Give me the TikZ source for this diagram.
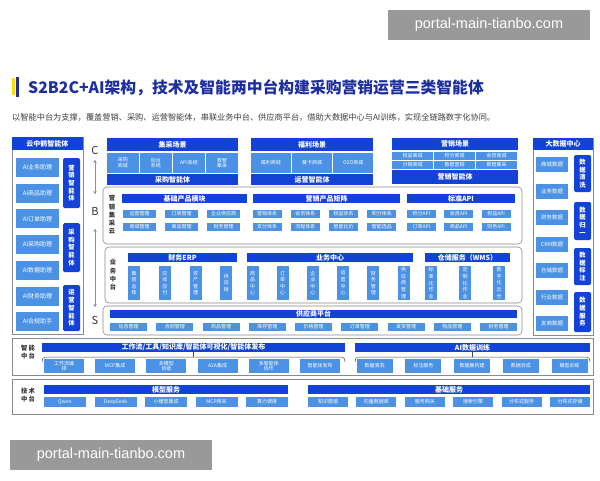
\documentclass[tikz,border=0pt]{standalone}
\usepackage{fontspec}
\setmainfont{Noto Sans CJK SC}
\newfontfamily\wmfont{Liberation Sans}
\usetikzlibrary{arrows.meta}
\definecolor{dkb}{HTML}{1242D6}
\definecolor{ltb}{HTML}{4C92E4}
\definecolor{ttl}{HTML}{1D2F9E}
\definecolor{gln}{HTML}{8A8A8A}
\definecolor{arc}{HTML}{8090B8}
\tikzstyle{hd} = [rectangle, fill=dkb, text=white, inner sep=0pt,
    font=\fontsize{7}{8}\selectfont\bfseries]
\tikzstyle{ce} = [rectangle, fill=ltb, text=white, inner sep=0pt, align=center,
    font=\fontsize{5}{5.8}\selectfont]
\tikzstyle{vc} = [ce, minimum width=12pt, minimum height=34pt, font=\fontsize{5}{6.6}\selectfont]
\tikzstyle{dc} = [rectangle, fill=dkb, text=white, inner sep=0pt, align=center,
    rounded corners=1.5pt, minimum width=17pt, font=\fontsize{6.3}{7.7}\selectfont\bfseries]
\tikzstyle{pn} = [rectangle, draw=gln, line width=0.6pt]
\tikzstyle{rp} = [pn, rounded corners=4pt]
\tikzstyle{lb} = [align=center, text=black!80, font=\fontsize{6.3}{8.3}\selectfont\bfseries]

\begin{document}
\begin{tikzpicture}[x=1pt,y=-1pt,>={Stealth[length=3.5pt,width=3.5pt]}]
  \useasboundingbox (0,0) rectangle (600,480);
  \fill[white] (0,0) rectangle (600,480);

  \fill[yellow!80!orange] (12,78) rectangle (15,95);
  \fill[ttl] (16,77) rectangle (18.5,97);
  \node[anchor=west, inner sep=0pt, text=ttl, font=\fontsize{15.8}{17}\selectfont\bfseries] (tt) at (28,88)
    {S2B2C+AI架构，技术及智能两中台构建采购营销运营三类智能体};
  \node[anchor=west, inner sep=0pt, text=black!75, font=\fontsize{8.2}{9}\selectfont] (st) at (12,117)
    {以智能中台为支撑，覆盖营销、采购、运营智能体，串联业务中台、供应商平台，借助大数据中心与AI训练，实现全链路数字化协同。};

  \node[pn, minimum width=71pt, minimum height=197pt] (yzh) at (47.5,235.5) {};
  \node[hd, minimum width=71pt, minimum height=13pt] (yzhh) at (47.5,143.5) {云中鹤智能体};
  \foreach \t [count=\i from 0] in {AI业务助理,AI商品助理,AI订单助理,AI采购助理,AI数据助理,AI财务助理,AI合规助手}
    \node[ce, minimum width=43pt, minimum height=19pt, font=\fontsize{6}{7}\selectfont] (ai\i) at (37.5,167.5+25.7*\i) {\t};
  \node[dc, minimum height=50pt] (yxa) at (71.5,183) {营\\销\\智\\能\\体};
  \node[dc, minimum height=49pt] (cga) at (71.5,247.5) {采\\购\\智\\能\\体};
  \node[dc, minimum height=46pt] (yya) at (71.5,308) {运\\营\\智\\能\\体};

  \node[text=black!80, font=\fontsize{11}{12}\selectfont] (lc) at (95,150) {C};
  \node[text=black!80, font=\fontsize{11}{12}\selectfont] (lb) at (95,211) {B};
  \node[text=black!80, font=\fontsize{11}{12}\selectfont] (ls) at (95,320) {S};
  \draw[<->, arc, line width=0.7pt, shorten <=2pt, shorten >=9pt] (lc) -- (lb);
  \draw[<->, arc, line width=0.7pt, shorten <=10pt, shorten >=5pt] (lb) -- (ls);

  \node[hd, minimum width=131pt, minimum height=13pt] (jch) at (172.5,144.5) {集采场景};
  \foreach \t [count=\i from 0] in {{采购\\商城},{后台\\系统},API系统,{数智\\集采}}
    \node[ce, minimum width=31.6pt, minimum height=20pt] (jc\i) at (122.8+33.1*\i,163) {\t};
  \node[hd, minimum width=131pt, minimum height=11pt] (jcf) at (172.5,179.5) {采购智能体};

  \node[hd, minimum width=122pt, minimum height=13pt] (flh) at (312,144.5) {福利场景};
  \foreach \t [count=\i from 0] in {福利商城,餐卡商城,O2O商城}
    \node[ce, minimum width=39.7pt, minimum height=20pt] (fl\i) at (270.8+41.2*\i,163) {\t};
  \node[hd, minimum width=122pt, minimum height=11pt] (flf) at (312,179.5) {运营智能体};

  \node[hd, minimum width=126pt, minimum height=12pt] (yxh) at (455,144) {营销场景};
  \foreach \t [count=\i from 0] in {权益商城,积分商城,会员商城}
    \node[ce, minimum width=41pt, minimum height=7.5pt] (yxr\i) at (412.5+42*\i,155.8) {\t};
  \foreach \t [count=\i from 0] in {分销商城,数智营销,数智集采}
    \node[ce, minimum width=41pt, minimum height=7.5pt] (yxs\i) at (412.5+42*\i,164.8) {\t};
  \node[hd, minimum width=126pt, minimum height=14.5pt] (yxf) at (455,176.8) {营销智能体};

  \node[pn, minimum width=60pt, minimum height=197pt] (dsj) at (563,236.5) {};
  \node[hd, minimum width=60pt, minimum height=12pt] (dsjh) at (563,144) {大数据中心};
  \foreach \t [count=\i from 0] in {商城数据,业务数据,财务数据,CRM数据,仓储数据,行业数据,友商数据}
    \node[ce, minimum width=32pt, minimum height=15pt, font=\fontsize{5.5}{6}\selectfont] (sj\i) at (552,164.5+26.5*\i) {\t};
  \node[dc, minimum height=37pt] (sqx) at (582.5,173.5) {数\\据\\清\\洗};
  \node[dc, minimum height=38pt] (sgy) at (582.5,221) {数\\据\\归\\一};
  \node[dc, minimum height=37pt] (sbz) at (582.5,266.5) {数\\据\\标\\注};
  \node[dc, minimum height=40pt] (sfw) at (582.5,312) {数\\据\\服\\务};

  \node[rp, minimum width=419pt, minimum height=57pt] (yxjc) at (312.5,215.5) {};
  \node[lb] (yxjcl) at (112,215) {营\\销\\集\\采\\云};
  \node[hd, minimum width=125pt, minimum height=9pt] (jch2) at (184.5,198.5) {基础产品模块};
  \node[hd, minimum width=147pt, minimum height=9pt] (jzh) at (326.5,198.5) {营销产品矩阵};
  \node[hd, minimum width=108pt, minimum height=9pt] (aph) at (461,198.5) {标准API};
  \foreach \t/\u [count=\i from 0] in {运营管理/商城管理,订单管理/商品管理,企业供应商/财务管理} {
    \node[ce, minimum width=33pt, minimum height=8pt] (jm\i) at (139.5+42*\i,214) {\t};
    \node[ce, minimum width=33pt, minimum height=8pt] (jn\i) at (139.5+42*\i,227) {\u};
  }
  \foreach \t/\u [count=\i from 0] in {营销体系/支付体系,会员体系/流程体系,权益体系/智能比价,积分体系/智能选品} {
    \node[ce, minimum width=29pt, minimum height=8pt] (zm\i) at (267+38.3*\i,214) {\t};
    \node[ce, minimum width=29pt, minimum height=8pt] (zn\i) at (267+38.3*\i,227) {\u};
  }
  \foreach \t/\u [count=\i from 0] in {积分API/订单API,会员API/商品API,权益API/财务API} {
    \node[ce, minimum width=29pt, minimum height=8pt] (am\i) at (421.5+37.3*\i,214) {\t};
    \node[ce, minimum width=29pt, minimum height=8pt] (an\i) at (421.5+37.3*\i,227) {\u};
  }

  \node[rp, minimum width=417pt, minimum height=56pt] (ywzt) at (313.5,275) {};
  \node[lb] (ywztl) at (113,275) {业\\务\\中\\台};
  \node[hd, minimum width=109pt, minimum height=9pt] (erph) at (182.5,257.5) {财务ERP};
  \node[hd, minimum width=166pt, minimum height=9pt] (ywh) at (330,257.5) {业务中心};
  \node[hd, minimum width=85pt, minimum height=9pt] (wmsh) at (467.5,257.5) {仓储服务（WMS）};
  \foreach \t [count=\i from 0] in {{集\\团\\总\\账},{应\\收\\应\\付},{资\\产\\管\\理},{供\\应\\链}}
    \node[vc] (erp\i) at (134+30.8*\i,283) {\t};
  \foreach \t [count=\i from 0] in {{商\\品\\中\\心},{订\\单\\中\\心},{企\\业\\中\\心},{运\\营\\中\\心},{财\\务\\管\\理},{供\\应\\商\\管\\理}}
    \node[vc] (yw\i) at (252.5+30.2*\i,283) {\t};
  \foreach \t [count=\i from 0] in {{标\\准\\化\\作\\业},{定\\制\\化\\作\\业},{数\\字\\化\\云\\仓}}
    \node[vc] (wms\i) at (431+34*\i,283) {\t};

  \node[rp, minimum width=419pt, minimum height=29pt] (gys) at (312.5,320.5) {};
  \node[hd, minimum width=407pt, minimum height=8pt] (gysh) at (313.5,314) {供应商平台};
  \foreach \t [count=\i from 0] in {信息管理,合同管理,商品管理,库存管理,价格管理,订单管理,发货管理,物品管理,财务管理}
    \node[ce, minimum width=37pt, minimum height=8pt] (gy\i) at (128.5+46.25*\i,327) {\t};

  \node[pn, minimum width=581pt, minimum height=37pt] (znzt) at (302.5,356.5) {};
  \node[lb] (zntl) at (28,352) {智\,能\\中\,台};
  \node[hd, minimum width=303pt, minimum height=9pt] (gzh) at (193.5,347.5) {工作流/工具/知识库/智能体可视化/智能体发布};
  \node[hd, minimum width=235pt, minimum height=9pt] (xlh) at (472.5,347.5) {AI数据训练};
  \draw[black!70, line width=0.5pt] (42,362) to[out=90,in=180] (45,357) -- (342,357) to[out=0,in=90] (345,362);
  \draw[black!70, line width=0.5pt] (gzh.south) -- ++(0,5);
  \draw[black!70, line width=0.5pt] (355,362) to[out=90,in=180] (358,357) -- (587,357) to[out=0,in=90] (590,362);
  \draw[black!70, line width=0.5pt] (xlh.south) -- ++(0,5);
  \foreach \t [count=\i from 0] in {{工作流编\\排},MCP集成,{多模型\\协助},A2A集成,{多智能体\\协作},智能体发布}
    \node[ce, minimum width=40pt, minimum height=14pt] (gz\i) at (64+51.2*\i,366) {\t};
  \foreach \t [count=\i from 0] in {数据清洗,标注服务,数据集构建,数据合成,模型训练}
    \node[ce, minimum width=36pt, minimum height=14pt] (xl\i) at (374.5+48.75*\i,366) {\t};

  \node[pn, minimum width=581pt, minimum height=35pt] (jszt) at (302.5,396.5) {};
  \node[lb] (jstl) at (28,395) {技\,术\\中\,台};
  \node[hd, minimum width=244pt, minimum height=9pt] (mxh) at (166,389.5) {模型服务};
  \node[hd, minimum width=282pt, minimum height=9pt] (jch3) at (449,389.5) {基础服务};
  \foreach \t [count=\i from 0] in {Qwen,DeepSeek,小模型集成,MCP网关,算力调度}
    \node[ce, minimum width=42pt, minimum height=10pt] (mx\i) at (65+50.5*\i,402) {\t};
  \foreach \t [count=\i from 0] in {知识图谱,向量数据库,服务网关,搜索引擎,分布式服务,分布式存储}
    \node[ce, minimum width=40pt, minimum height=10pt] (jc3\i) at (328+48.4*\i,402) {\t};

  \node[fill=black!40, text=white, minimum width=202pt, minimum height=30pt, inner sep=0pt,
    font=\wmfont\fontsize{14.5}{16}\selectfont] (wma) at (489,25) {portal-main-tianbo.com};
  \node[fill=black!40, text=white, minimum width=202pt, minimum height=30pt, inner sep=0pt,
    font=\wmfont\fontsize{14.5}{16}\selectfont] (wmb) at (111,455) {portal-main-tianbo.com};
\end{tikzpicture}
\end{document}
